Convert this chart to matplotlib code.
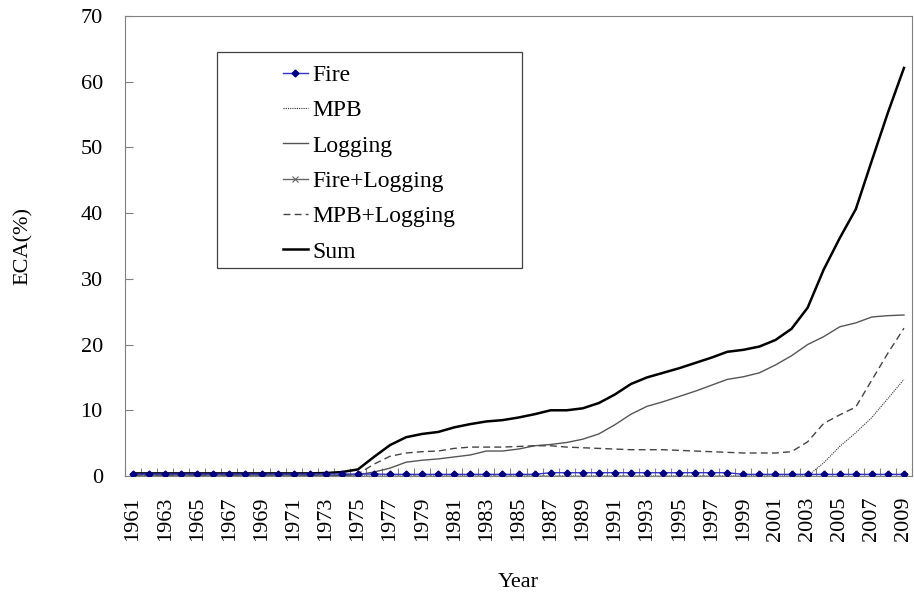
import numpy as np
import matplotlib.pyplot as plt
from matplotlib.patches import Rectangle

years = list(range(1961, 2010))

fire = [0.3]*16 + [0.25]*10 + [0.5]*12 + [0.25]*11
mpb = [0.0]*43 + [2.0, 4.5, 6.6, 8.9, 11.8, 14.7]
logging = [0.0]*12 + [0.05, 0.1, 0.2, 0.6, 1.2, 2.1, 2.4, 2.6, 2.9, 3.2, 3.8, 3.8,
                      4.1, 4.6, 4.8, 5.1, 5.6, 6.4, 7.8, 9.4, 10.6, 11.3, 12.1, 12.9,
                      13.8, 14.7, 15.1, 15.7, 16.9, 18.3, 20.0, 21.2, 22.7, 23.3, 24.2,
                      24.4, 24.5]
fire_logging = [0.02]*49
mpb_logging = [0.0]*13 + [0.05, 0.3, 1.8, 3.0, 3.5, 3.7, 3.8, 4.2, 4.4, 4.4, 4.4,
                          4.5, 4.6, 4.6, 4.4, 4.3, 4.2, 4.1, 4.0, 4.0, 4.0, 3.9, 3.8,
                          3.7, 3.6, 3.5, 3.5, 3.5, 3.7, 5.2, 8.0, 9.3, 10.5, 14.6, 18.7,
                          22.5]
total = [0.4]*12 + [0.45, 0.6, 1.0, 2.9, 4.7, 5.9, 6.4, 6.7, 7.4, 7.9, 8.3, 8.5,
                    8.9, 9.4, 10.0, 10.0, 10.3, 11.1, 12.4, 14.0, 15.0, 15.7, 16.4, 17.2,
                    18.0, 18.9, 19.2, 19.7, 20.7, 22.4, 25.6, 31.4, 36.2, 40.6, 48.0,
                    55.3, 62.1]

plt.rcParams['font.family'] = ['Liberation Serif', 'DejaVu Serif']

fig = plt.figure(figsize=(9.14, 5.93), dpi=100)
ax = fig.add_axes([125/914, 1-476/593, 787/914, 460/593])

x = np.arange(len(years))
ax.plot(x, fire, color='#3333cc', lw=1, marker='D', ms=3.5, mfc='#000080', mec='#000080', label='Fire', zorder=5)
ax.plot(x, mpb, color='#333333', lw=0.8, ls=(0, (1, 1)), label='MPB')
ax.plot(x, logging, color='#555555', lw=1, label='Logging')
ax.plot(x, fire_logging, color='#666666', lw=1, marker='x', ms=5, mew=0.8, label='Fire+Logging', zorder=4)
ax.plot(x, mpb_logging, color='#444444', lw=1, ls=(0, (5, 3)), label='MPB+Logging')
ax.plot(x, total, color='black', lw=1.8, label='Sum')

ax.set_xlim(-0.5, len(years) - 0.5)
ax.set_ylim(0, 70)
ax.set_yticks(range(0, 71, 10))
ax.set_xticks(x[::2])
ax.set_xticklabels([str(y) for y in years[::2]], rotation=90, fontsize=16)
ax.set_xticks(np.arange(-0.5, len(years), 1), minor=True)
ax.tick_params(axis='x', which='major', length=0, pad=15)
ax.tick_params(axis='x', which='minor', direction='in', length=6, color='#808080', width=0.8)
ax.tick_params(axis='y', direction='in', length=6, color='#808080', width=0.8, pad=16, labelsize=16)
for s in ax.spines.values():
    s.set_color('#808080')
    s.set_linewidth(0.8)

ax.set_xlabel('Year', fontsize=16, labelpad=23)
ax.set_ylabel('ECA(%)', fontsize=16, labelpad=34)

ax.add_patch(Rectangle((0.117, 0.452), 0.3875, 0.470, transform=ax.transAxes,
                       fill=False, ec='#404040', lw=0.9, zorder=6))
leg = ax.legend(loc='upper left', bbox_to_anchor=(0.2007, 0.8948), frameon=False,
                fontsize=17, handlelength=1.06, handletextpad=0.17, labelspacing=0.585,
                borderpad=0, borderaxespad=0)

fig.savefig('out.png', dpi=100)
